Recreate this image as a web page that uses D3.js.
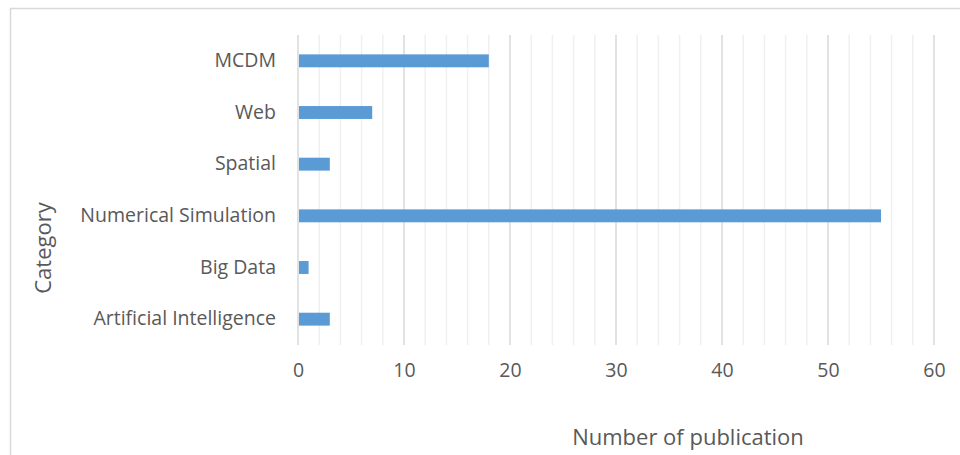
<!DOCTYPE html>
<html><head><meta charset="utf-8">
<script src="https://cdn.jsdelivr.net/npm/d3@7"></script>
<style>body{margin:0;background:#fff;} text{font-family:"Open Sans", sans-serif;}</style>
</head><body>
<svg id="c" width="960" height="455"></svg>
<script>
const categories = ["MCDM","Web","Spatial","Numerical Simulation","Big Data","Artificial Intelligence"];
const values = [18, 7, 3, 55, 1, 3];
const majorTicks = [0,10,20,30,40,50,60];
const minorTicks = [2,4,6,8,12,14,16,18,22,24,26,28,32,34,36,38,42,44,46,48,52,54,56,58];
const xTitle = "Number of publication";
const yTitle = "Category";
const FONT = "'Open Sans', sans-serif";

const svg = d3.select("#c");
svg.append("rect").attr("x",10.5).attr("y",8.5).attr("width",970).attr("height",470)
  .attr("fill","#fff").attr("stroke","#d9d9d9").attr("stroke-width",1.5);

const m = {left:298, right:934, top:35, bottom:345};
const x = d3.scaleLinear().domain([0,60]).range([m.left,m.right]);
const y = d3.scaleBand().domain(categories).range([m.top,m.bottom]).paddingInner(0.75).paddingOuter(0.375);

const g = svg.append("g");
g.selectAll(".minor").data(minorTicks).join("line")
  .attr("x1",d=>x(d)).attr("x2",d=>x(d)).attr("y1",m.top).attr("y2",m.bottom)
  .attr("stroke","#f0f0f0").attr("stroke-width",1.5);
g.selectAll(".major").data(majorTicks).join("line")
  .attr("x1",d=>x(d)).attr("x2",d=>x(d)).attr("y1",m.top).attr("y2",m.bottom)
  .attr("stroke","#d9d9d9").attr("stroke-width",1.5);

g.selectAll(".bar").data(categories).join("rect")
  .attr("x",x(0)+1).attr("y",d=>y(d))
  .attr("width",(d,i)=>x(values[i])-x(0)-1).attr("height",y.bandwidth())
  .attr("fill","#5b9bd5");

const xa = svg.append("g").attr("transform",`translate(0,${m.bottom})`)
  .call(d3.axisBottom(x).tickValues(majorTicks).tickSize(0).tickPadding(18));
xa.select(".domain").remove();
xa.selectAll("text").attr("font-size",19.5).attr("fill","#595959").style("font-family",FONT);

const ya = svg.append("g").attr("transform",`translate(${m.left},0)`)
  .call(d3.axisLeft(y).tickSize(0).tickPadding(22));
ya.select(".domain").remove();
ya.selectAll("text").attr("font-size",19.5).attr("fill","#595959").style("font-family",FONT);

svg.append("text").attr("x",688).attr("y",445).attr("text-anchor","middle")
  .attr("font-size",22).attr("fill","#595959").text(xTitle);
svg.append("text").attr("transform","translate(51,248) rotate(-90)").attr("text-anchor","middle")
  .attr("font-size",22).attr("fill","#595959").text(yTitle);
</script>
</body></html>
